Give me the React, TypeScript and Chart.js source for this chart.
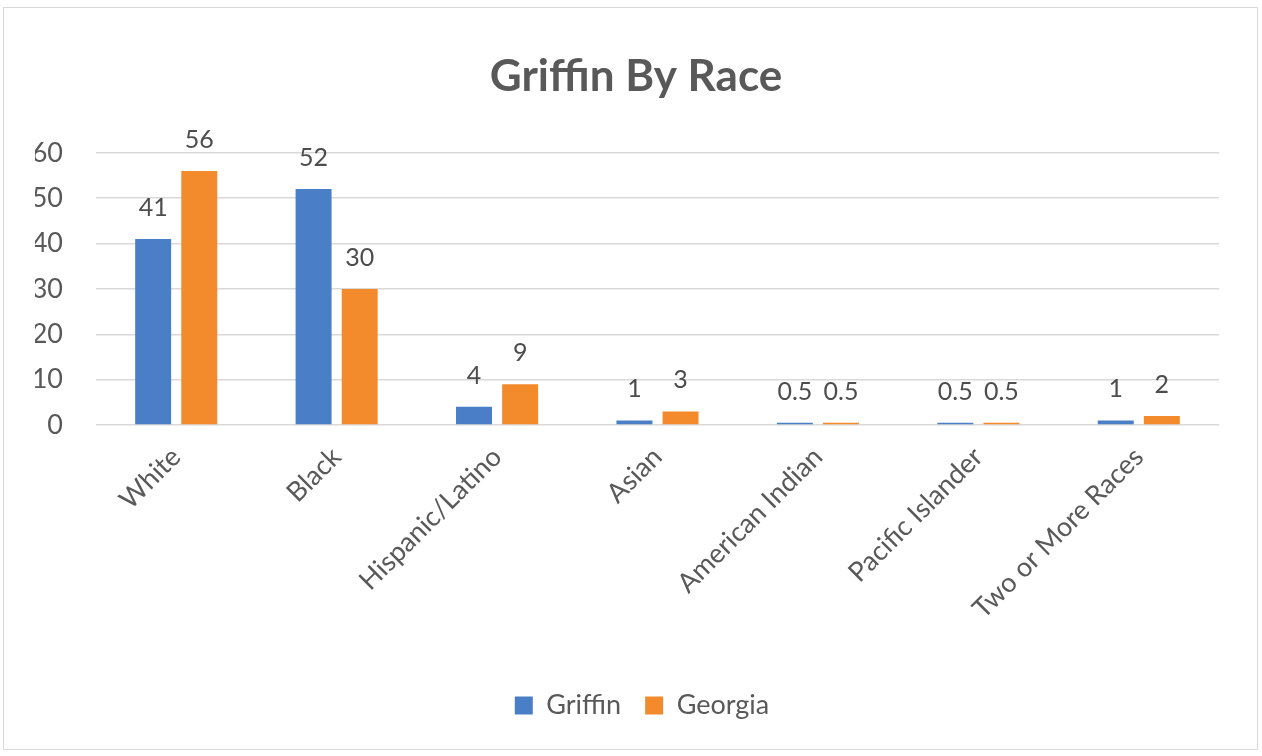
import React, { useEffect, useRef } from "react";
import { Chart, registerables } from "chart.js";

Chart.register(...registerables);

const categories = [
  "White",
  "Black",
  "Hispanic/Latino",
  "Asian",
  "American Indian",
  "Pacific Islander",
  "Two or More Races",
];
const griffinValues = [41, 52, 4, 1, 0.5, 0.5, 1];
const georgiaValues = [56, 30, 9, 3, 0.5, 0.5, 2];
const yTicks = [0, 10, 20, 30, 40, 50, 60];

const FONT = "Lato, 'Open Sans', sans-serif";
const TEXT = "#595959";

// Writes each bar's value just above its top.
const valueLabels = {
  id: "valueLabels",
  afterDatasetsDraw(chart: any) {
    const { ctx } = chart;
    ctx.save();
    ctx.font = `25px ${FONT}`;
    ctx.fillStyle = "#4d4d4d";
    ctx.textAlign = "center";
    ctx.textBaseline = "alphabetic";
    chart.data.datasets.forEach((ds: any, i: number) => {
      const meta = chart.getDatasetMeta(i);
      meta.data.forEach((bar: any, j: number) => {
        ctx.fillText(String(ds.data[j]), bar.x, bar.y - 23);
      });
    });
    ctx.restore();
  },
};

// Centres the title and legend over the plot rather than the full canvas.
const centreOverPlot = {
  id: "centreOverPlot",
  afterLayout(chart: any) {
    const shift = (box: any, dx: number) => {
      if (!box) return;
      box.left += dx;
      box.right += dx;
    };
    shift(chart.titleBlock, 9);
    shift(chart.legend, 15);
  },
};

export default function App() {
  const ref = useRef<HTMLCanvasElement | null>(null);

  useEffect(() => {
    document.body.style.margin = "0";
    const chart = new Chart(ref.current as HTMLCanvasElement, {
      type: "bar",
      data: {
        labels: categories,
        datasets: [
          {
            label: "Griffin",
            data: griffinValues,
            backgroundColor: "#4A7EC6",
            borderWidth: 0,
            categoryPercentage: 0.575,
            barPercentage: 0.78,
          },
          {
            label: "Georgia",
            data: georgiaValues,
            backgroundColor: "#F38B2D",
            borderWidth: 0,
            categoryPercentage: 0.575,
            barPercentage: 0.78,
          },
        ],
      },
      options: {
        responsive: false,
        animation: false,
        layout: { padding: { left: 31, right: 38, top: 0, bottom: 20 } },
        plugins: {
          title: {
            display: true,
            text: "Griffin By Race",
            color: TEXT,
            font: { family: FONT, size: 44, weight: "bold" },
            padding: { top: 42, bottom: 50 },
          },
          legend: {
            position: "bottom",
            labels: {
              color: TEXT,
              font: { family: FONT, size: 27 },
              boxWidth: 18,
              boxHeight: 18,
              padding: 24,
            },
          },
          tooltip: { enabled: false },
        },
        scales: {
          x: {
            grid: { display: false },
            border: { display: false },
            ticks: {
              color: TEXT,
              font: { family: FONT, size: 27 },
              minRotation: 45,
              maxRotation: 45,
              padding: 8,
            },
            afterFit(axis: any) {
              axis.height = 243;
            },
          },
          y: {
            min: 0,
            max: 60,
            afterBuildTicks(axis: any) {
              axis.ticks = yTicks.map((v) => ({ value: v }));
            },
            afterFit(axis: any) {
              axis.width = 61;
            },
            grid: { color: "#d9d9d9", lineWidth: 1.5, drawTicks: false },
            border: { display: false },
            ticks: {
              color: TEXT,
              font: { family: FONT, size: 27 },
              padding: 33,
            },
          },
        },
      },
      plugins: [valueLabels, centreOverPlot],
    });
    return () => chart.destroy();
  }, []);

  return (
    <div
      style={{
        position: "absolute",
        left: 0,
        top: 0,
        width: 1262,
        height: 756,
        background: "#fff",
      }}
    >
      <div
        style={{
          position: "absolute",
          left: 3,
          top: 7,
          width: 1253,
          height: 741,
          border: "1px solid #d9d9d9",
        }}
      >
        <canvas ref={ref} width={1253} height={741} />
      </div>
    </div>
  );
}
